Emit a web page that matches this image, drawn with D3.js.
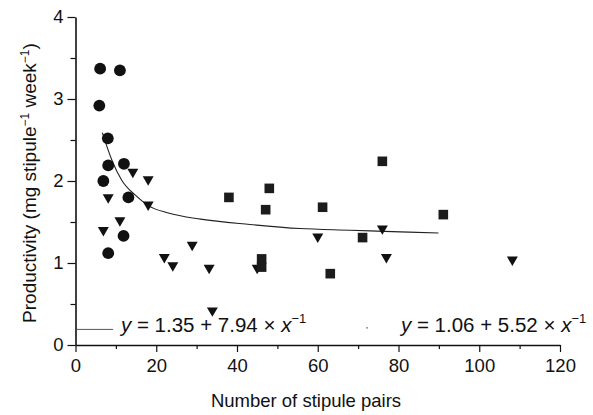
<!DOCTYPE html>
<html>
<head>
<meta charset="utf-8">
<script src="https://cdn.jsdelivr.net/npm/d3@7"></script>
<style>
  body { margin: 0; background: #fff; }
  text { font-family: "Liberation Sans", Arial, Helvetica, sans-serif; fill: #111; }
</style>
</head>
<body>
<script>
// values
const circleX = [6.1, 11.0, 5.9, 8.0, 8.1, 12.0, 6.9, 13.1, 11.9, 8.1];
const circleY = [3.37, 3.35, 2.92, 2.52, 2.19, 2.21, 2.00, 1.80, 1.33, 1.12];

const triX = [14.2, 18.0, 8.1, 18.0, 11.0, 6.9, 28.9, 22.0, 24.1, 33.1, 45.0, 33.9, 60.0, 76.0, 77.0, 108.2];
const triY = [2.12, 2.03, 1.81, 1.72, 1.53, 1.41, 1.23, 1.08, 0.98, 0.95, 0.95, 0.43, 1.33, 1.43, 1.08, 1.05];

const squareX = [38.0, 48.0, 47.1, 61.2, 76.0, 91.1, 71.1, 63.1, 46.1, 46.1];
const squareY = [1.80, 1.91, 1.65, 1.68, 2.24, 1.59, 1.31, 0.87, 1.05, 0.95];

// fitted curve as drawn
const fitX = [6.64, 8.97, 11.45, 14.75, 18.04, 23.0, 31.0, 43.2, 55.6, 68.0, 80.4, 89.9];
const fitY = [2.59, 2.26, 2.01, 1.83, 1.70, 1.61, 1.535, 1.47, 1.42, 1.40, 1.38, 1.366];

const xTicks = [0, 20, 40, 60, 80, 100, 120];
const xMinor = [10, 30, 50, 70, 90, 110];
const yTicks = [0, 1, 2, 3, 4];
const yMinor = [0.5, 1.5, 2.5, 3.5];

const width = 593, height = 415;
const svg = d3.select('body').append('svg')
    .attr('width', width)
    .attr('height', height);

const x = d3.scaleLinear().domain([0, 120]).range([75.5, 560]);
const y = d3.scaleLinear().domain([0, 4]).range([345, 17]);

// axes
const xAxis = d3.axisBottom(x).tickValues(xTicks).tickSize(7).tickPadding(7)
    .tickFormat(d3.format('d')).tickSizeOuter(0);
svg.append('g').attr('transform', `translate(0, ${y(0)})`).call(xAxis);
svg.append('g').attr('transform', `translate(0, ${y(0)})`)
    .call(d3.axisBottom(x).tickValues(xMinor).tickSize(4).tickFormat('').tickSizeOuter(0))
    .select('.domain').remove();

const yAxis = d3.axisLeft(y).tickValues(yTicks).tickSize(8).tickPadding(4)
    .tickFormat(d3.format('d')).tickSizeOuter(0);
svg.append('g').attr('transform', `translate(${x(0)}, 0)`).call(yAxis);
svg.append('g').attr('transform', `translate(${x(0)}, 0)`)
    .call(d3.axisLeft(y).tickValues(yMinor).tickSize(5).tickFormat('').tickSizeOuter(0))
    .select('.domain').remove();

svg.selectAll('.domain').attr('stroke', '#111').attr('stroke-width', 1.6);
svg.selectAll('.tick line').attr('stroke', '#111').attr('stroke-width', 1.2);
svg.selectAll('.tick text')
    .attr('font-size', 18.5)
    .attr('font-family', '"Liberation Sans", Arial, sans-serif')
    .attr('fill', '#111');

// axis titles
svg.append('text')
    .attr('x', 306)
    .attr('y', 407)
    .attr('text-anchor', 'middle')
    .attr('font-size', 18.5)
    .text('Number of stipule pairs');

const yl = svg.append('text')
    .attr('transform', 'translate(36, 183) rotate(-90)')
    .attr('text-anchor', 'middle')
    .attr('font-size', 19);
yl.append('tspan').text('Productivity (mg stipule');
yl.append('tspan').attr('font-size', 12).attr('dy', -7).text('\u22121');
yl.append('tspan').attr('dy', 7).text(' week');
yl.append('tspan').attr('font-size', 12).attr('dy', -7).text('\u22121');
yl.append('tspan').attr('dy', 7).text(')');

// fitted curve
const line = d3.line().x(d => x(d[0])).y(d => y(d[1])).curve(d3.curveMonotoneX);
svg.append('path')
    .datum(d3.zip(fitX, fitY))
    .attr('d', line)
    .attr('fill', 'none')
    .attr('stroke', '#222')
    .attr('stroke-width', 1.1);

// markers
const ink = '#111';
svg.selectAll('circle.pt')
    .data(d3.zip(circleX, circleY))
    .enter().append('circle')
    .attr('class', 'pt')
    .attr('cx', d => x(d[0]))
    .attr('cy', d => y(d[1]))
    .attr('r', 5.9)
    .attr('fill', ink);

const tri = d3.symbol().type(d3.symbolTriangle).size(52);
svg.selectAll('path.tri')
    .data(d3.zip(triX, triY))
    .enter().append('path')
    .attr('class', 'tri')
    .attr('d', tri)
    .attr('transform', d => `translate(${x(d[0])}, ${y(d[1]) + 0.8}) rotate(180)`)
    .attr('fill', ink);

svg.selectAll('rect.sq')
    .data(d3.zip(squareX, squareY))
    .enter().append('rect')
    .attr('class', 'sq')
    .attr('x', d => x(d[0]) - 4.8)
    .attr('y', d => y(d[1]) - 4.8)
    .attr('width', 9.6)
    .attr('height', 9.6)
    .attr('fill', '#1c1c1c');

// equation keys
const keyY = 0.19;
svg.append('line')
    .attr('x1', x(0)).attr('x2', x(9.3))
    .attr('y1', y(keyY)).attr('y2', y(keyY))
    .attr('stroke', '#444').attr('stroke-width', 0.9);
svg.append('circle')
    .attr('cx', x(72.2)).attr('cy', y(keyY + 0.02))
    .attr('r', 0.9).attr('fill', '#777');

function equation(px, txt) {
    const t = svg.append('text')
        .attr('x', px).attr('y', 332)
        .attr('font-size', 20.5);
    t.append('tspan').attr('font-style', 'italic').text('y');
    t.append('tspan').text(' = ' + txt + ' \u00d7 ');
    t.append('tspan').attr('font-style', 'italic').text('x');
    t.append('tspan').attr('font-size', 13).attr('dy', -9).text('\u22121');
}
equation(121, '1.35 + 7.94');
equation(401, '1.06 + 5.52');
</script>
</body>
</html>
